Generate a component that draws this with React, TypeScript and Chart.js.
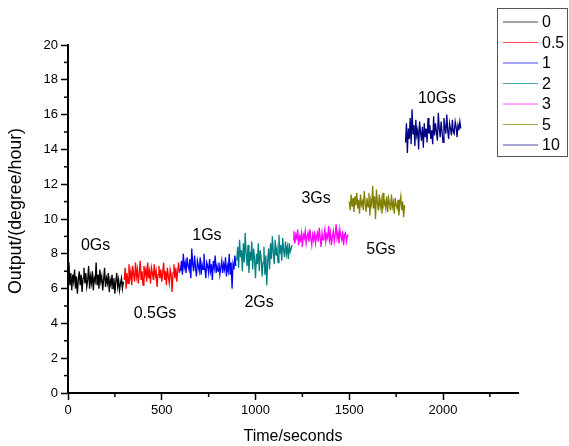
import React, { useEffect, useRef } from "react";
import { Chart, registerables } from "chart.js";

Chart.register(...registerables);

const FONT = "Arial, 'Liberation Sans', sans-serif";

const seriesLabels = ["0", "0.5", "1", "2", "3", "5", "10"];
const seriesColors = ["#000000", "#ff0000", "#0000ff", "#008080", "#ff00ff", "#808000", "#000080"];
const segmentStarts = [0, 300, 600, 900, 1200, 1500, 1800];
const sampleStep = 5;

const values0 = [6.6, 7.5, 6.2, 6.9, 5.9, 6.8, 6.4, 7.1, 6.0, 6.7, 5.7, 6.5, 7.0, 6.2, 6.8, 5.8, 6.6, 7.2, 6.3, 6.9, 6.1, 6.5, 7.3, 6.0, 6.7, 6.3, 7.0, 5.9, 6.6, 6.4, 7.5, 6.2, 6.8, 6.0, 7.1, 6.4, 6.7, 5.9, 6.5, 7.2, 6.1, 6.6, 6.3, 6.9, 5.8, 6.5, 6.2, 6.8, 6.0, 6.6, 5.7, 6.4, 6.9, 6.1, 6.5, 5.9, 6.3, 6.6, 6.0, 6.4];
const values05 = [6.5, 7.2, 6.0, 6.9, 6.3, 7.4, 6.6, 7.0, 6.2, 7.3, 6.8, 6.4, 7.5, 6.7, 7.1, 6.3, 6.9, 7.6, 6.5, 7.0, 6.2, 7.3, 6.8, 7.1, 6.4, 7.5, 6.6, 7.0, 6.3, 7.2, 6.9, 6.5, 7.4, 6.7, 7.0, 6.1, 6.8, 7.3, 6.6, 7.1, 6.4, 6.9, 7.5, 6.5, 7.0, 6.2, 7.2, 6.7, 6.3, 7.1, 6.8, 5.8, 6.9, 7.4, 6.6, 7.2, 6.4, 7.0, 7.5, 6.9];
const values1 = [7.0, 7.6, 6.8, 8.0, 7.2, 7.5, 6.9, 7.8, 7.3, 7.1, 7.7, 6.6, 8.3, 7.4, 7.0, 7.9, 7.2, 6.7, 7.6, 7.3, 7.0, 7.8, 6.8, 7.4, 7.1, 8.0, 7.2, 6.6, 7.5, 7.3, 6.9, 7.7, 7.0, 7.4, 6.5, 7.6, 7.2, 7.9, 6.9, 7.3, 7.0, 7.5, 6.8, 7.2, 7.6, 6.9, 7.4, 7.1, 7.8, 6.7, 7.3, 7.0, 8.0, 6.8, 7.5, 6.0, 7.4, 7.1, 7.9, 7.3];
const values2 = [7.6, 8.4, 7.2, 8.8, 7.8, 8.2, 7.0, 8.6, 7.5, 9.2, 8.0, 7.3, 8.5, 6.9, 8.1, 7.6, 8.7, 7.1, 8.3, 7.7, 6.6, 8.0, 7.4, 8.6, 7.0, 8.2, 7.8, 6.7, 7.5, 8.4, 6.8, 7.9, 6.2, 7.6, 8.3, 7.1, 8.6, 7.7, 9.0, 8.1, 7.4, 8.8, 7.9, 8.3, 7.5, 9.1, 8.0, 8.5, 7.6, 8.9, 8.2, 7.8, 8.7, 8.0, 8.4, 7.7, 8.6, 8.1, 8.3, 8.5];
const values3 = [8.8, 9.3, 8.6, 9.1, 8.9, 9.4, 8.5, 9.0, 8.8, 9.2, 8.4, 9.1, 8.9, 9.3, 8.6, 9.0, 9.2, 8.7, 9.4, 8.9, 8.5, 9.1, 8.8, 9.3, 8.6, 9.0, 9.2, 8.7, 9.5, 8.9, 8.4, 9.2, 8.8, 9.0, 9.4, 8.7, 9.1, 8.9, 9.6, 8.8, 9.2, 8.5, 9.0, 9.3, 8.7, 9.1, 9.7, 8.9, 9.2, 8.6, 9.4, 9.0, 8.8, 9.3, 8.5, 9.1, 9.2, 8.7, 9.0, 9.1];
const values5 = [11.0, 10.5, 11.4, 10.7, 11.2, 10.4, 11.3, 10.8, 11.5, 10.6, 11.1, 10.3, 11.4, 10.8, 11.0, 10.5, 11.6, 10.9, 10.4, 11.2, 10.7, 11.5, 10.2, 11.1, 10.8, 11.9, 10.6, 11.3, 10.0, 11.7, 10.9, 10.5, 11.4, 10.7, 11.1, 10.3, 11.5, 10.8, 11.0, 10.6, 11.3, 10.4, 11.2, 10.9, 10.5, 11.4, 10.7, 11.0, 10.3, 11.2, 10.8, 10.6, 11.1, 10.2, 10.9, 11.3, 10.5, 11.0, 10.1, 10.8];
const values10 = [14.4, 15.5, 13.8, 15.2, 14.6, 15.8, 14.3, 16.3, 14.9, 15.4, 14.2, 15.7, 14.8, 15.1, 14.0, 15.6, 15.0, 14.5, 15.3, 14.1, 15.5, 14.7, 15.2, 14.4, 15.8, 14.9, 15.4, 14.6, 15.1, 14.3, 15.9, 14.8, 15.5, 15.0, 14.5, 16.1, 15.2, 14.7, 15.6, 15.0, 14.4, 15.8, 15.3, 14.9, 16.0, 15.1, 14.6, 15.5, 15.2, 14.8, 15.7, 15.0, 14.9, 15.6, 15.3, 14.7, 15.4, 15.1, 15.6, 15.2];
const seriesValues = [values0, values05, values1, values2, values3, values5, values10];

const xTicks = [0, 500, 1000, 1500, 2000];
const xMinorTicks = [250, 750, 1250, 1750, 2250];
const yTicks = [0, 2, 4, 6, 8, 10, 12, 14, 16, 18, 20];
const yMinorTicks = [1, 3, 5, 7, 9, 11, 13, 15, 17, 19];

const annotationTexts = ["0Gs", "0.5Gs", "1Gs", "2Gs", "3Gs", "5Gs", "10Gs"];
const annotationX = [147, 464, 741, 1019, 1323, 1669, 1968];
const annotationY = [8.5, 4.55, 9.05, 5.17, 11.15, 8.25, 16.9];

const xTitle = "Time/seconds";
const yTitle = "Output/(degree/hour)";

const decorPlugin = {
  id: "decor",
  afterDraw(chart: any) {
    const ctx = chart.ctx;
    const xs = chart.scales.x;
    const ys = chart.scales.y;
    const area = chart.chartArea;
    ctx.save();
    // minor ticks
    ctx.strokeStyle = "#000";
    ctx.lineWidth = 1.5;
    xMinorTicks.forEach((v) => {
      const px = xs.getPixelForValue(v);
      ctx.beginPath();
      ctx.moveTo(px, area.bottom);
      ctx.lineTo(px, area.bottom + 4);
      ctx.stroke();
    });
    yMinorTicks.forEach((v) => {
      const py = ys.getPixelForValue(v);
      ctx.beginPath();
      ctx.moveTo(area.left, py);
      ctx.lineTo(area.left - 4, py);
      ctx.stroke();
    });
    // annotations
    ctx.fillStyle = "#000";
    ctx.font = `16px ${FONT}`;
    ctx.textAlign = "center";
    ctx.textBaseline = "middle";
    annotationTexts.forEach((t, i) => {
      ctx.fillText(t, xs.getPixelForValue(annotationX[i]), ys.getPixelForValue(annotationY[i]));
    });
    // y title
    ctx.save();
    ctx.translate(16, 211);
    ctx.rotate(-Math.PI / 2);
    ctx.font = `17.8px ${FONT}`;
    ctx.fillText(yTitle, 0, 0);
    ctx.restore();
    // legend
    ctx.strokeStyle = "#555";
    ctx.lineWidth = 1;
    ctx.strokeRect(497.5, 8.5, 70, 148);
    ctx.textAlign = "left";
    ctx.font = `16px ${FONT}`;
    chart.data.datasets.forEach((ds: any, i: number) => {
      const y = 22 + i * 20.5;
      ctx.strokeStyle = ds.borderColor;
      ctx.globalAlpha = 0.7;
      ctx.beginPath();
      ctx.moveTo(503, y);
      ctx.lineTo(538, y);
      ctx.stroke();
      ctx.globalAlpha = 1;
      ctx.fillStyle = "#000";
      ctx.fillText(ds.label, 542, y + 1);
    });
    ctx.restore();
  },
};

export default function App() {
  const ref = useRef<HTMLCanvasElement>(null);
  useEffect(() => {
    document.body.style.margin = "0";
    const canvas = ref.current;
    if (!canvas) return;
    const datasets = seriesValues.map((vals, i) => ({
      label: seriesLabels[i],
      data: vals.map((v, j) => ({ x: segmentStarts[i] + j * sampleStep, y: v })),
      borderColor: seriesColors[i],
      backgroundColor: seriesColors[i],
      borderWidth: 1.3,
      pointRadius: 0,
      tension: 0,
      fill: false,
    }));
    const chart = new Chart(canvas, {
      type: "line",
      data: { datasets },
      options: {
        responsive: false,
        animation: false,
        events: [],
        layout: { padding: { left: 0, right: 51, top: 45, bottom: 0 } },
        plugins: { legend: { display: false }, tooltip: { enabled: false }, title: { display: false } },
        scales: {
          x: {
            type: "linear",
            min: 0,
            max: 2400,
            afterBuildTicks: (s: any) => {
              s.ticks = xTicks.map((v) => ({ value: v }));
            },
            afterFit: (s: any) => {
              s.height = 53;
            },
            grid: { display: true, drawOnChartArea: false, drawTicks: true, tickLength: 7, tickWidth: 1.5, tickColor: "#000" },
            border: { display: true, width: 2, color: "#000" },
            ticks: { color: "#000", font: { family: FONT, size: 13 }, padding: 3, maxRotation: 0, autoSkip: false, callback: (v: any) => String(v) },
            title: { display: true, text: xTitle, color: "#000", font: { family: FONT, size: 16 }, padding: { top: 0, bottom: 0 } },
          },
          y: {
            type: "linear",
            min: 0,
            max: 20,
            afterBuildTicks: (s: any) => {
              s.ticks = yTicks.map((v) => ({ value: v }));
            },
            afterFit: (s: any) => {
              s.width = 68;
            },
            grid: { display: true, drawOnChartArea: false, drawTicks: true, tickLength: 7, tickWidth: 1.5, tickColor: "#000" },
            border: { display: true, width: 2, color: "#000" },
            ticks: { color: "#000", font: { family: FONT, size: 13 }, padding: 3, autoSkip: false, callback: (v: any) => String(v) },
            title: { display: false },
          },
        },
      },
      plugins: [decorPlugin],
    });
    return () => chart.destroy();
  }, []);
  return (
    <div style={{ width: 569, height: 446 }}>
      <canvas ref={ref} width={569} height={446} style={{ width: 569, height: 446, display: "block" }} />
    </div>
  );
}
